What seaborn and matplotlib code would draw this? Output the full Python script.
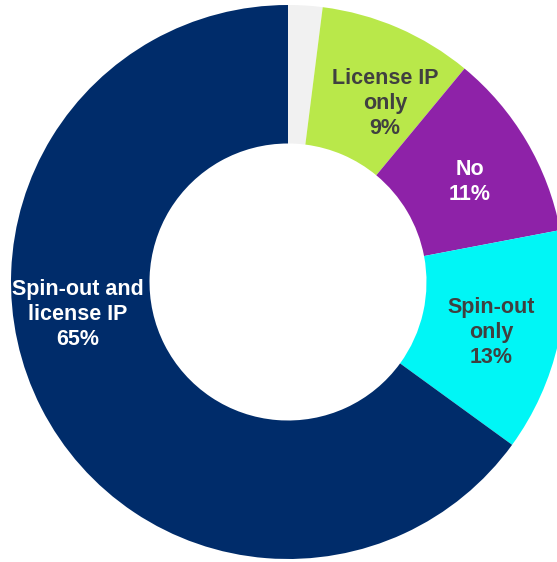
import matplotlib
matplotlib.use("Agg")
import matplotlib.pyplot as plt
import seaborn as sns

# Share of respondents by commercialisation route
categories = ["Other", "License IP only", "No", "Spin-out only", "Spin-out and license IP"]
shares = [2, 9, 11, 13, 65]
label_lines = ["", "License IP\nonly", "No", "Spin-out\nonly", "Spin-out and\nlicense IP"]

sns.set_theme(style="white")
plt.rcParams["font.family"] = ["Liberation Sans", "DejaVu Sans"]

colors = ["#F1F1F1", "#B9E84A", "#8E22A8", "#00F6F6", "#002C6A"]
text_colors = ["#404040", "#404040", "#FFFFFF", "#404040", "#FFFFFF"]

fig = plt.figure(figsize=(5.57, 5.62), dpi=100)
ax = fig.add_axes([0, 0, 1, 1])

wedges, _ = ax.pie(
    shares,
    colors=colors,
    startangle=90,
    counterclock=False,
    radius=1.0,
    wedgeprops=dict(width=0.5, edgecolor="none", linewidth=0),
)

# Label anchors inside the ring (data units, ring radius = 1)
label_pos = [None, (0.350, 0.643), (0.657, 0.361), (0.733, -0.184), (-0.758, -0.116)]
for name, val, lab, pos, tc in zip(categories, shares, label_lines, label_pos, text_colors):
    if pos is None:
        continue
    ax.text(pos[0], pos[1], f"{lab}\n{val}%", ha="center", va="center",
            fontsize=15.5, fontweight="bold", color=tc, linespacing=1.25)

ax.set_xlim(-288 / 277, (557 - 288) / 277)
ax.set_ylim(-(562 - 282) / 277, 282 / 277)
ax.set_aspect("equal")
ax.axis("off")

fig.savefig("out.png", dpi=100, facecolor="white")
